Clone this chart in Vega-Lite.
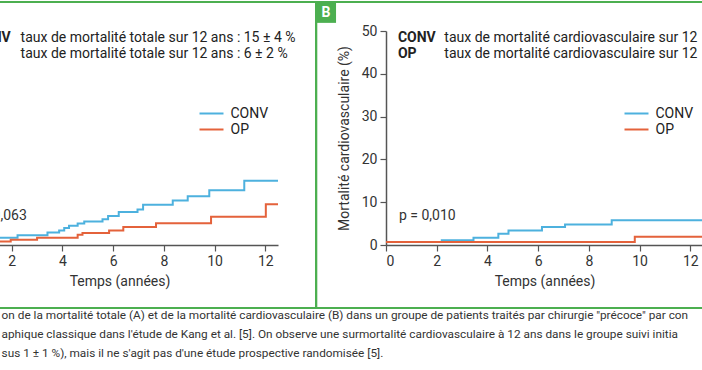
{
  "$schema": "https://vega.github.io/schema/vega-lite/v6.json",
  "padding": {"left": -155, "top": 0, "right": -141, "bottom": 5},
  "background": "white",
  "bounds": "flush",
  "spacing": 108,
  "datasets": {
    "curves": [
      {"panel": "A", "group": "CONV", "t": 0, "v": 0},
      {"panel": "A", "group": "CONV", "t": 1.4, "v": 1.7},
      {"panel": "A", "group": "CONV", "t": 2.23, "v": 2.3},
      {"panel": "A", "group": "CONV", "t": 3.41, "v": 2.9},
      {"panel": "A", "group": "CONV", "t": 3.87, "v": 3.4},
      {"panel": "A", "group": "CONV", "t": 4.07, "v": 4.0},
      {"panel": "A", "group": "CONV", "t": 4.26, "v": 4.5},
      {"panel": "A", "group": "CONV", "t": 4.6, "v": 5.0},
      {"panel": "A", "group": "CONV", "t": 4.86, "v": 5.5},
      {"panel": "A", "group": "CONV", "t": 5.58, "v": 6.0},
      {"panel": "A", "group": "CONV", "t": 5.8, "v": 6.8},
      {"panel": "A", "group": "CONV", "t": 6.22, "v": 7.7},
      {"panel": "A", "group": "CONV", "t": 6.96, "v": 8.3},
      {"panel": "A", "group": "CONV", "t": 7.18, "v": 9.4},
      {"panel": "A", "group": "CONV", "t": 8.35, "v": 10.4},
      {"panel": "A", "group": "CONV", "t": 8.94, "v": 11.4},
      {"panel": "A", "group": "CONV", "t": 9.79, "v": 12.8},
      {"panel": "A", "group": "CONV", "t": 11.17, "v": 15.0},
      {"panel": "A", "group": "CONV", "t": 12.5, "v": 15.0},
      {"panel": "A", "group": "OP", "t": 0, "v": 0},
      {"panel": "A", "group": "OP", "t": 1.0, "v": 0.8},
      {"panel": "A", "group": "OP", "t": 1.96, "v": 1.2},
      {"panel": "A", "group": "OP", "t": 3.0, "v": 1.7},
      {"panel": "A", "group": "OP", "t": 4.6, "v": 2.4},
      {"panel": "A", "group": "OP", "t": 4.79, "v": 2.8},
      {"panel": "A", "group": "OP", "t": 5.84, "v": 3.4},
      {"panel": "A", "group": "OP", "t": 6.4, "v": 4.2},
      {"panel": "A", "group": "OP", "t": 7.69, "v": 5.1},
      {"panel": "A", "group": "OP", "t": 9.86, "v": 6.6},
      {"panel": "A", "group": "OP", "t": 12.02, "v": 9.5},
      {"panel": "A", "group": "OP", "t": 12.5, "v": 9.5},
      {"panel": "B", "group": "CONV", "t": 0, "v": 0.7},
      {"panel": "B", "group": "CONV", "t": 2.2, "v": 1.1},
      {"panel": "B", "group": "CONV", "t": 3.45, "v": 1.7},
      {"panel": "B", "group": "CONV", "t": 4.43, "v": 2.6},
      {"panel": "B", "group": "CONV", "t": 4.83, "v": 3.4},
      {"panel": "B", "group": "CONV", "t": 6.15, "v": 4.2},
      {"panel": "B", "group": "CONV", "t": 7.06, "v": 4.8},
      {"panel": "B", "group": "CONV", "t": 8.9, "v": 5.8},
      {"panel": "B", "group": "CONV", "t": 12.5, "v": 5.8},
      {"panel": "B", "group": "OP", "t": 0, "v": 0.7},
      {"panel": "B", "group": "OP", "t": 9.81, "v": 1.9},
      {"panel": "B", "group": "OP", "t": 12.5, "v": 1.9}
    ]
  },
  "data": {"values": [{}]},
  "config": {
    "font": "Roboto",
    "view": {"stroke": null},
    "axis": {
      "domainColor": "#555", "tickColor": "#555", "domainWidth": 1.5, "tickWidth": 1.2, "tickSize": 6,
      "labelColor": "#333", "labelFontSize": 14, "titleFontSize": 14, "titleFontWeight": "normal",
      "titleColor": "#333", "grid": false, "labelPadding": 3
    },
    "legend": {
      "symbolType": "M-1.6,0H1.6", "symbolSize": 225, "symbolStrokeWidth": 2, "labelFontSize": 14,
      "labelColor": "#222", "labelOffset": 10.5, "padding": 0, "rowPadding": 0
    },
    "text": {"fontSize": 14, "color": "#222"}
  },
  "resolve": {"scale": {"color": "independent"}, "legend": {"color": "independent"}},
  "hconcat": [
    {
      "width": 317,
      "height": 214,
      "layer": [
        {
          "mark": {"type": "rect", "filled": false, "stroke": "#4caf50", "strokeWidth": 2, "clip": false},
          "encoding": {
            "x": {"datum": -4.5, "type": "quantitative"},
            "x2": {"datum": 14.01},
            "y": {"datum": -14.7, "type": "quantitative"},
            "y2": {"datum": 56.8}
          }
        },
        {
          "data": {"name": "curves"},
          "transform": [{"filter": "datum.panel === 'A'"}],
          "mark": {"type": "line", "interpolate": "step-after", "strokeWidth": 2},
          "encoding": {
            "x": {"field": "t", "type": "quantitative", "scale": {"domain": [0, 12.5], "nice": false},
                  "axis": {"values": [0, 2, 4, 6, 8, 10, 12], "title": "Temps (années)", "titlePadding": 6}},
            "y": {"field": "v", "type": "quantitative", "scale": {"domain": [0, 50], "nice": false},
                  "axis": {"values": [0, 10, 20, 30, 40, 50], "title": "Mortalité totale (%)", "titlePadding": 10}},
            "color": {"field": "group", "type": "nominal",
                      "scale": {"domain": ["CONV", "OP"], "range": ["#4db1de", "#e4623b"]},
                      "legend": {"title": null, "orient": "none", "legendX": 242, "legendY": 74}}
          }
        },
        {"mark": {"type": "text", "text": "CONV", "fontWeight": "bold", "align": "left", "baseline": "middle"},
         "encoding": {"x": {"datum": 0.47, "type": "quantitative"}, "y": {"datum": 48.4, "type": "quantitative"}}},
        {"mark": {"type": "text", "text": "OP", "fontWeight": "bold", "align": "left", "baseline": "middle"},
         "encoding": {"x": {"datum": 0.47, "type": "quantitative"}, "y": {"datum": 44.6, "type": "quantitative"}}},
        {"mark": {"type": "text", "text": "taux de mortalité totale sur 12 ans : 15 ± 4 %", "align": "left", "baseline": "middle"},
         "encoding": {"x": {"datum": 2.35, "type": "quantitative"}, "y": {"datum": 48.4, "type": "quantitative"}}},
        {"mark": {"type": "text", "text": "taux de mortalité totale sur 12 ans : 6 ± 2 %", "align": "left", "baseline": "middle"},
         "encoding": {"x": {"datum": 2.35, "type": "quantitative"}, "y": {"datum": 44.6, "type": "quantitative"}}},
        {"mark": {"type": "text", "text": "p = 0,063", "align": "left", "baseline": "middle", "color": "#333"},
         "encoding": {"x": {"datum": 0.36, "type": "quantitative"}, "y": {"datum": 6.8, "type": "quantitative"}}},
        {"mark": {"type": "text", "text": "on de la mortalité totale (A) et de la mortalité cardiovasculaire (B) dans un groupe de patients traités par chirurgie \"précoce\" par con", "align": "left", "baseline": "middle", "fontSize": 11.8, "color": "#333", "clip": false},
         "encoding": {"x": {"datum": 1.6, "type": "quantitative"}, "y": {"datum": -16.4, "type": "quantitative"}}},
        {"mark": {"type": "text", "text": "aphique classique dans l'étude de Kang et al. [5]. On observe une surmortalité cardiovasculaire à 12 ans dans le groupe suivi initia", "align": "left", "baseline": "middle", "fontSize": 11.8, "color": "#333", "clip": false},
         "encoding": {"x": {"datum": 1.6, "type": "quantitative"}, "y": {"datum": -20.8, "type": "quantitative"}}},
        {"mark": {"type": "text", "text": "sus 1 ± 1 %), mais il ne s'agit pas d'une étude prospective randomisée [5].", "align": "left", "baseline": "middle", "fontSize": 11.8, "color": "#333", "clip": false},
         "encoding": {"x": {"datum": 1.6, "type": "quantitative"}, "y": {"datum": -25.2, "type": "quantitative"}}}
      ]
    },
    {
      "width": 317,
      "height": 214,
      "layer": [
        {
          "mark": {"type": "rect", "filled": false, "stroke": "#4caf50", "strokeWidth": 2, "clip": false},
          "encoding": {
            "x": {"datum": -2.76, "type": "quantitative"},
            "x2": {"datum": 18},
            "y": {"datum": -14.7, "type": "quantitative"},
            "y2": {"datum": 56.8}
          }
        },
        {
          "mark": {"type": "rect", "color": "#4caf50", "clip": false},
          "encoding": {
            "x": {"datum": -2.76, "type": "quantitative"},
            "x2": {"datum": -1.97},
            "y": {"datum": 51.9, "type": "quantitative"},
            "y2": {"datum": 56.6}
          }
        },
        {"mark": {"type": "text", "text": "B", "fontWeight": "bold", "align": "center", "baseline": "middle", "color": "white", "fontSize": 14, "clip": false},
         "encoding": {"x": {"datum": -2.365, "type": "quantitative"}, "y": {"datum": 54.2, "type": "quantitative"}}},
        {
          "data": {"name": "curves"},
          "transform": [{"filter": "datum.panel === 'B'"}],
          "mark": {"type": "line", "interpolate": "step-after", "strokeWidth": 2},
          "encoding": {
            "x": {"field": "t", "type": "quantitative", "scale": {"domain": [0, 12.5], "nice": false},
                  "axis": {"values": [0, 2, 4, 6, 8, 10, 12], "title": "Temps (années)", "titlePadding": 6}},
            "y": {"field": "v", "type": "quantitative", "scale": {"domain": [0, 50], "nice": false},
                  "axis": {"values": [0, 10, 20, 30, 40, 50], "title": "Mortalité cardiovasculaire (%)", "titlePadding": 10}},
            "color": {"field": "group", "type": "nominal",
                      "scale": {"domain": ["CONV", "OP"], "range": ["#4db1de", "#e4623b"]},
                      "legend": {"title": null, "orient": "none", "legendX": 242, "legendY": 74}}
          }
        },
        {"mark": {"type": "text", "text": "CONV", "fontWeight": "bold", "align": "left", "baseline": "middle"},
         "encoding": {"x": {"datum": 0.47, "type": "quantitative"}, "y": {"datum": 48.4, "type": "quantitative"}}},
        {"mark": {"type": "text", "text": "OP", "fontWeight": "bold", "align": "left", "baseline": "middle"},
         "encoding": {"x": {"datum": 0.47, "type": "quantitative"}, "y": {"datum": 44.6, "type": "quantitative"}}},
        {"mark": {"type": "text", "text": "taux de mortalité cardiovasculaire sur 12", "align": "left", "baseline": "middle"},
         "encoding": {"x": {"datum": 2.3, "type": "quantitative"}, "y": {"datum": 48.4, "type": "quantitative"}}},
        {"mark": {"type": "text", "text": "taux de mortalité cardiovasculaire sur 12", "align": "left", "baseline": "middle"},
         "encoding": {"x": {"datum": 2.3, "type": "quantitative"}, "y": {"datum": 44.6, "type": "quantitative"}}},
        {"mark": {"type": "text", "text": "p = 0,010", "align": "left", "baseline": "middle", "color": "#333"},
         "encoding": {"x": {"datum": 0.51, "type": "quantitative"}, "y": {"datum": 6.8, "type": "quantitative"}}}
      ]
    }
  ]
}
